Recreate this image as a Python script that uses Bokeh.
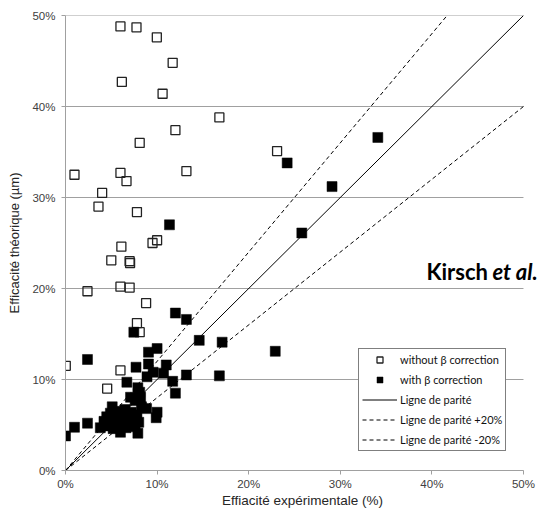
from bokeh.plotting import figure
from bokeh.models import Range1d, FixedTicker, Legend, LegendItem, Label
from bokeh.embed import file_html
from bokeh.resources import INLINE

# ---------------- data (values in %) ----------------
x_ticks = [0, 10, 20, 30, 40, 50]
x_tick_labels = ["0%", "10%", "20%", "30%", "40%", "50%"]
y_ticks = [0, 10, 20, 30, 40, 50]
y_tick_labels = ["0%", "10%", "20%", "30%", "40%", "50%"]

# without beta correction (hollow squares)
without_x = [6.0, 7.75, 9.97, 11.7, 6.15, 10.6, 16.8, 12.0, 8.1, 23.1,
             0.98, 6.0, 6.66, 13.2, 4.0, 3.6, 7.8, 6.1, 9.5, 10.0,
             5.0, 7.0, 7.05, 2.4, 6.0, 7.0, 8.8, 7.8, 8.1, 0.03,
             6.0, 4.55]
without_y = [48.8, 48.7, 47.6, 44.8, 42.7, 41.4, 38.8, 37.4, 36.0, 35.1,
             32.5, 32.7, 31.8, 32.9, 30.5, 29.0, 28.4, 24.6, 25.0, 25.3,
             23.1, 23.0, 22.8, 19.7, 20.2, 20.1, 18.4, 16.2, 15.2, 11.5,
             11.0, 9.0]

# with beta correction (filled squares)
with_x = [34.1, 24.2, 29.1, 25.8, 22.9, 11.35, 12.0, 13.2, 14.6, 17.1,
          16.8, 13.2, 11.7, 12.0, 7.46, 2.4, 10.0, 9.06, 9.06, 11.0,
          7.7, 10.7, 9.57, 8.9, 6.7, 7.9, 7.1, 8.2, 8.85, 10.0,
          9.9, 0.0, 0.98, 2.4, 7.9, 6.0,
          3.8, 4.2, 4.5, 4.8, 4.9, 5.1, 5.3, 5.5, 5.6, 5.8,
          6.1, 6.3, 6.5, 6.6, 6.8, 7.0, 7.2, 7.4, 7.6, 7.8,
          8.0, 8.3, 7.6, 8.1, 5.2, 4.4]
with_y = [36.6, 33.8, 31.2, 26.1, 13.1, 27.0, 17.3, 16.6, 14.3, 14.1,
          10.4, 10.5, 9.8, 8.5, 15.2, 12.2, 13.4, 13.0, 11.7, 11.6,
          11.35, 10.7, 10.8, 10.3, 9.7, 9.1, 8.05, 8.05, 6.8, 6.4,
          5.8, 3.8, 4.75, 5.2, 4.1, 4.2,
          4.7, 5.4, 5.9, 5.0, 6.3, 7.0, 5.6, 6.5, 4.9, 5.9,
          6.3, 5.3, 6.7, 4.7, 5.9, 5.1, 6.4, 5.5, 4.8, 6.1,
          5.3, 7.0, 7.7, 8.6, 4.6, 4.9]

# parity lines
parity_x = [0, 50]
parity_y = [0, 50]
plus20_y = [0, 60]
minus20_y = [0, 40]

AXIS_GREY = "#a0a0a0"
TEXT_DARK = "#262626"

X_END = 51.75  # room on the right for the "Kirsch et al." caption

p = figure(frame_width=474, frame_height=455, output_backend="svg",
           toolbar_location=None,
           x_range=Range1d(0, X_END), y_range=Range1d(0, 50),
           min_border_left=65, min_border_right=0, min_border_top=15,
           min_border_bottom=36)
p.outline_line_color = None
p.background_fill_color = "white"

for ax, ticks, labels in ((p.xaxis[0], x_ticks, x_tick_labels),
                          (p.yaxis[0], y_ticks, y_tick_labels)):
    ax.ticker = FixedTicker(ticks=ticks)
    ax.major_label_overrides = {t: l for t, l in zip(ticks, labels)}
    ax.axis_line_color = AXIS_GREY
    ax.major_tick_line_color = AXIS_GREY
    ax.major_tick_out = 4
    ax.major_tick_in = 0
    ax.minor_tick_line_color = None
    ax.major_label_text_font = "Liberation Sans"
    ax.major_label_text_font_size = "11.5px"
    ax.major_label_text_color = "#404040"
    ax.axis_label_text_font = "Liberation Sans"
    ax.axis_label_text_font_style = "normal"
    ax.axis_label_text_color = TEXT_DARK

p.xaxis.bounds = (x_ticks[0], x_ticks[-1])
p.xaxis.axis_label = "Effiacité expérimentale (%)"
p.yaxis.axis_label = "Efficacité théorique (µm)"
p.xaxis.axis_label_text_font_size = "13.5px"
p.yaxis.axis_label_text_font_size = "13px"
p.xaxis.major_label_standoff = 3
p.xaxis.axis_label_standoff = 0
p.yaxis.major_label_standoff = 6
p.yaxis.axis_label_standoff = 7

# horizontal grid lines limited to the 0-50% data area
p.xgrid.grid_line_color = None
p.ygrid.grid_line_color = None
p.segment(x0=[x_ticks[0]] * len(y_ticks), x1=[x_ticks[-1]] * len(y_ticks),
          y0=y_ticks, y1=y_ticks, line_color=AXIS_GREY, line_width=1)

# lines
r_par = p.line(parity_x, parity_y, line_color="black", line_width=1)
r_p20 = p.line(parity_x, plus20_y, line_color="black", line_width=1, line_dash="4 3")
r_m20 = p.line(parity_x, minus20_y, line_color="black", line_width=1, line_dash="4 3")

# markers
r_wo = p.scatter(without_x, without_y, marker="square", size=9,
                 fill_color=None, line_color="#222222", line_width=1.3)
r_w = p.scatter(with_x, with_y, marker="square", size=10,
                fill_color="black", line_color="black", line_width=0.5)

legend = Legend(items=[
    LegendItem(label="without β correction", renderers=[r_wo]),
    LegendItem(label="with β correction", renderers=[r_w]),
    LegendItem(label="Ligne de parité", renderers=[r_par]),
    LegendItem(label="Ligne de parité +20%", renderers=[r_p20]),
    LegendItem(label="Ligne de parité -20%", renderers=[r_m20]),
], location=(293, 19))
legend.padding = 3
legend.spacing = 5
legend.glyph_height = 15
legend.label_height = 15
legend.glyph_width = 35
legend.label_standoff = 3
legend.margin = 0
legend.border_line_color = "black"
legend.border_line_width = 1
legend.background_fill_color = "white"
legend.background_fill_alpha = 1
legend.label_text_font = "Lato"
legend.label_text_font_size = "11px"
legend.label_text_color = "#111111"
p.add_layout(legend, "center")

lab1 = Label(x=39.4, y=21.9, text="Kirsch", text_font="Lato",
             text_font_style="bold", text_font_size="22px",
             text_color="black", text_baseline="alphabetic")
lab2 = Label(x=39.4, y=21.9, x_offset=66, text="et al.", text_font="Lato",
             text_font_style="bold italic", text_font_size="22px",
             text_color="black", text_baseline="alphabetic")
p.add_layout(lab1)
p.add_layout(lab2)

open("out.html", "w").write(file_html(p, INLINE))
